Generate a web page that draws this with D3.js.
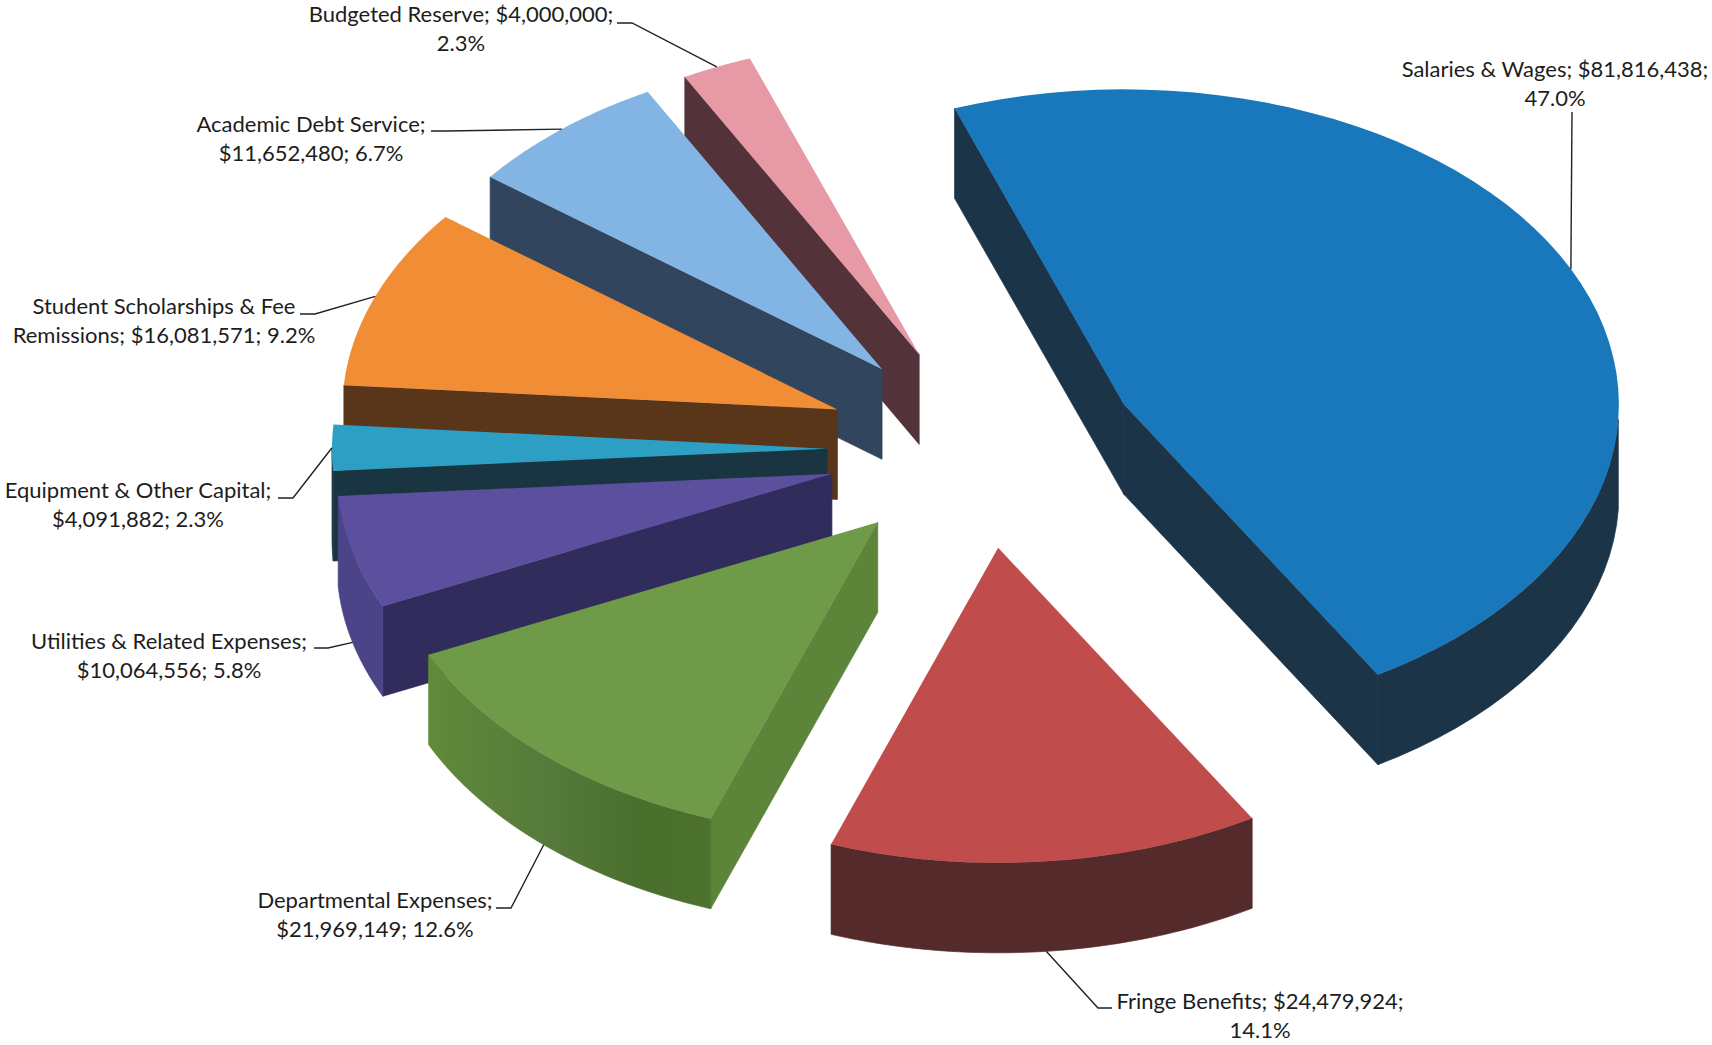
<!DOCTYPE html>
<html>
<head>
<meta charset="utf-8">
<script src="https://cdn.jsdelivr.net/npm/d3@7/dist/d3.min.js"></script>
<style>
  html, body { margin: 0; padding: 0; background: #fff; }
  svg { display: block; }
  text { font-family: Lato, "Noto Sans", sans-serif; font-size: 22px; fill: #1d1d1d; }
</style>
</head>
<body>
<svg id="chart" width="1712" height="1045"></svg>
<script>
// Budget categories, clockwise from the large salaries slice
const categories = ["Salaries & Wages", "Fringe Benefits", "Departmental Expenses",
  "Utilities & Related Expenses", "Equipment & Other Capital",
  "Student Scholarships & Fee Remissions", "Academic Debt Service", "Budgeted Reserve"];
const amounts = [81816438, 24479924, 21969149, 10064556, 4091882, 16081571, 11652480, 4000000];

// Face colours per slice
const topColors    = ["#1878bb", "#c04c4c", "#6f9a47", "#5b4f9e", "#2e9fc4", "#f18d35", "#82b4e4", "#e79aa6"];
const startWall    = ["#1b3448", "#552a2a", "#5c8539", "#302c5c", "#1a3542", "#593519", "#31465e", "#53323a"];
const endWall      = ["#1b3448", "#552a2a", "#5c8539", "#302c5c", "#1a3542", "#593519", "#31465e", "#53323a"];
const outerWall    = ["#1b3448", "#552a2a", "url(#deptWall)", "#4c4488", "#1a3542", "#593519", "#31465e", "#53323a"];

// Label text, split across its two printed lines
const labelLines = [
  ["Salaries & Wages; $81,816,438;", "47.0%"],
  ["Fringe Benefits; $24,479,924;", "14.1%"],
  ["Departmental Expenses;", "$21,969,149; 12.6%"],
  ["Utilities & Related Expenses;", "$10,064,556; 5.8%"],
  ["Equipment & Other Capital;", "$4,091,882; 2.3%"],
  ["Student Scholarships & Fee", "Remissions; $16,081,571; 9.2%"],
  ["Academic Debt Service;", "$11,652,480; 6.7%"],
  ["Budgeted Reserve; $4,000,000;", "2.3%"]
];
// Label placement: centre x, first baseline, leader start and leader elbow
const labelX   = [1555, 1260, 375, 169, 138, 164, 311, 461];
const labelY   = [77, 1009, 908, 649, 498, 314, 132, 22];
const leadFrom = [[1572, 112], [1112, 1008], [496, 908], [314, 648], [278, 498], [300, 314], [431, 131], [617, 23]];
const leadBend = [[1572, 112], [1098, 1008], [511, 908], [328, 648], [293, 498], [315, 314], [446, 131], [632, 23]];

// Pie geometry
const cx = 983, cy = 449, rx = 495, ry = 315, depth = 90, explode = 156;
const lineStep = 29;
const firstAngle = -20 * Math.PI / 180;

const pie = d3.pie().sort(null).value(d => d)
  .startAngle(firstAngle).endAngle(firstAngle + 2 * Math.PI);
const arcs = pie(amounts);

const unit = a => [Math.sin(a), -Math.cos(a)];
const line = d3.line();
const svg = d3.select("#chart");

// Shading across the curved wall of the departmental slice
const grad = svg.append("defs").append("linearGradient").attr("id", "deptWall");
grad.selectAll("stop").data([[0, "#618a3a"], [0.45, "#55793a"], [0.75, "#4a6e2c"], [1, "#4d722e"]])
  .join("stop").attr("offset", d => d[0]).attr("stop-color", d => d[1]);

// Far slices sit a little higher on screen, an approximation of camera perspective
const farLift = (sinMid, cosMid) => cosMid > 0.3 ? (sinMid < 0 ? 4 : 2) : 0;

const slices = arcs.map((arc, i) => {
  const mid = (arc.startAngle + arc.endAngle) / 2;
  const [mx, my] = unit(mid);
  const apex = [cx + explode * mx, cy + explode * (ry / rx) * my - farLift(mx, -my)];
  const onRim = a => { const [u, v] = unit(a); return [apex[0] + rx * u, apex[1] + ry * v]; };
  const rim = d3.range(0, 61).map(k => onRim(arc.startAngle + (arc.endAngle - arc.startAngle) * k / 60));
  return { i, arc, mid, apex, rim, onRim };
});

const drop = p => [p[0], p[1] + depth];
const isFront = a => Math.cos(a) < 0;

// Back slices are painted first so nearer ones overlap them
const painted = slices.slice().sort((a, b) => d3.ascending(a.apex[1], b.apex[1]));

const g = svg.append("g");
painted.forEach(s => {
  const { i, apex, rim } = s;
  const first = rim[0], last = rim[rim.length - 1];
  const group = g.append("g").attr("class", "slice");
  const wall = (fill, pts) => group.append("path")
    .attr("fill", fill).attr("stroke", fill).attr("stroke-width", 0.7)
    .attr("d", line(pts) + "Z");

  if (first[0] < apex[0]) wall(startWall[i], [apex, first, drop(first), drop(apex)]);
  if (last[0] > apex[0]) wall(endWall[i], [apex, last, drop(last), drop(apex)]);
  // Outer wall: only the part of the rim on the near half of the ellipse
  const near = d3.range(0, 61)
    .map(k => s.arc.startAngle + (s.arc.endAngle - s.arc.startAngle) * k / 60)
    .filter(isFront).map(s.onRim);
  if (near.length > 1) wall(outerWall[i], near.concat(near.map(drop).reverse()));
  group.append("path").attr("fill", topColors[i])
    .attr("d", line([apex, ...rim]) + "Z");
});

// Leaders run from each label to the rim at the middle of its slice
slices.forEach(s => {
  const rimMid = s.onRim(s.mid);
  const end = isFront(s.mid) ? drop(rimMid) : rimMid;
  svg.append("path").attr("fill", "none").attr("stroke", "#222").attr("stroke-width", 1.4)
    .attr("d", line([leadFrom[s.i], leadBend[s.i], end]));
  const t = svg.append("text").attr("text-anchor", "middle");
  labelLines[s.i].forEach((txt, k) => {
    t.append("tspan").attr("x", labelX[s.i]).attr("y", labelY[s.i] + k * lineStep).text(txt);
  });
});
</script>
</body>
</html>
